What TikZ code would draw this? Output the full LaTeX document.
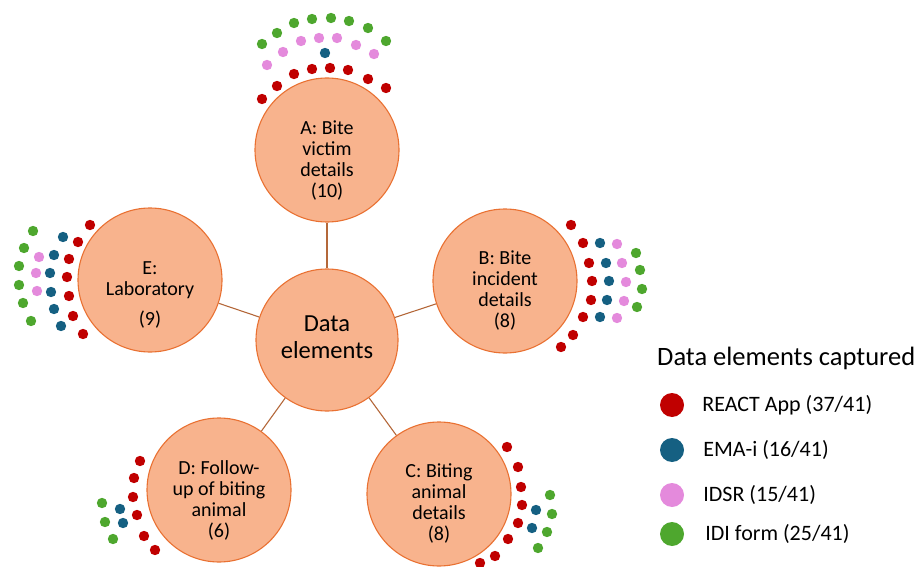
\documentclass[tikz,border=0pt]{standalone}
\usepackage{fontspec}
\setmainfont{Carlito}
\usetikzlibrary{positioning}

\definecolor{peach}{HTML}{F8B38D}
\definecolor{peachline}{HTML}{E97132}
\definecolor{linkbrown}{HTML}{B4683A}
\definecolor{react}{HTML}{C00000}
\definecolor{emai}{HTML}{156082}
\definecolor{idsr}{HTML}{E48ADC}
\definecolor{idi}{HTML}{4EA72E}

\newcommand\dotrow[2]{\foreach \p in {#2} \fill[#1] \p circle[radius=5.2pt];}

\begin{document}
\begin{tikzpicture}[x=1pt,y=-1pt,
  elem/.style={circle,fill=peach,draw=peachline,line width=1.1pt,minimum size=144pt,inner sep=0},
  etext/.style={align=center,font=\fontsize{20}{21}\selectfont,inner sep=0},
  link/.style={draw=linkbrown,line width=1.1pt},
  ldot/.style={circle,fill=#1,minimum size=24pt,inner sep=0},
  litem/.style={anchor=west,inner sep=0,font=\fontsize{22}{26}\selectfont}]
\useasboundingbox (0,0) rectangle (916,567);

\node[elem,minimum size=142pt] (hub) at (327,340) {};
\node[elem] (A) at (327,150) {};
\node[elem] (B) at (505,281) {};
\node[elem] (C) at (439,494) {};
\node[elem] (D) at (219,490) {};
\node[elem] (E) at (150,280) {};

\draw[link] (hub) -- (A);
\draw[link] (hub) -- (B);
\draw[link] (hub) -- (C);
\draw[link] (hub) -- (D);
\draw[link] (hub) -- (E);

\node[align=center,inner sep=0,font=\fontsize{24.5}{27}\selectfont] (hub-t) at ([yshift=3pt]hub) {Data\\elements};
\node[etext] (A-t) at ([yshift=-11pt]A) {A: Bite\\victim\\details\\(10)};
\node[etext] (B-t) at ([yshift=-10pt]B) {B: Bite\\incident\\details\\(8)};
\node[etext] (C-t) at ([yshift=-9pt]C) {C: Biting\\animal\\details\\(8)};
\node[etext] (D-t) at ([yshift=-10pt]D) {D: Follow-\\up of biting\\animal\\(6)};
\node[etext] (E-t) at ([yshift=-15pt]E) {E:\\Laboratory\\[9pt](9)};

% A
\dotrow{idi}{(262,44),(277,33),(294,23),(312,19),(331,18),(349,21),(368,28),(386,41)}
\dotrow{idsr}{(267,65),(283,52),(301,41),(319,38),(337,38),(356,45),(374,54)}
\dotrow{emai}{(325,53)}
\dotrow{react}{(262,99),(277,86),(294,74),(312,69),(330,68),(348,70),(368,79),(386,88)}
% B
\dotrow{react}{(571,225),(583,243),(589,263),(592,281),(591,300),(583,317),(573,335),(561,347)}
\dotrow{emai}{(600,243),(606,263),(609,281),(607,300),(600,317)}
\dotrow{idsr}{(617,244),(622,263),(626,282),(624,301),(617,318)}
\dotrow{idi}{(636,253),(640,270),(642,289),(637,307)}
% C
\dotrow{react}{(507,447),(518,467),(521,487),(522,505),(518,523),(508,539),(495,556),(480,563)}
\dotrow{emai}{(536,510),(532,528)}
\dotrow{idi}{(550,495),(552,514),(547,532),(538,548)}
% D
\dotrow{react}{(140,461),(134,478),(133,497),(137,515),(144,536),(155,550)}
\dotrow{emai}{(120,509),(123,523)}
\dotrow{idi}{(102,503),(105,522),(113,539)}
% E
\dotrow{react}{(90,225),(78,242),(69,259),(67,277),(69,296),(73,316),(83,334)}
\dotrow{emai}{(63,237),(54,255),(50,273),(51,292),(54,309),(61,326)}
\dotrow{idsr}{(39,257),(36,273),(37,291)}
\dotrow{idi}{(33,231),(24,248),(19,266),(19,285),(23,303),(31,321)}

% legend
\node[anchor=west,inner sep=0,font=\fontsize{26.5}{30}\selectfont] (key) at (657,358) {Data elements captured};
\node[ldot=react] (k1) at (672,405) {};
\node[ldot=emai] (k2) at (672,450) {};
\node[ldot=idsr] (k3) at (672,495) {};
\node[ldot=idi] (k4) at (672,534) {};
\node[litem,right=18pt of k1] (k1-t) {REACT App (37/41)};
\node[litem,right=19pt of k2] (k2-t) {EMA-i (16/41)};
\node[litem,right=19pt of k3] (k3-t) {IDSR (15/41)};
\node[litem,right=21pt of k4] (k4-t) {IDI form (25/41)};
\end{tikzpicture}
\end{document}
